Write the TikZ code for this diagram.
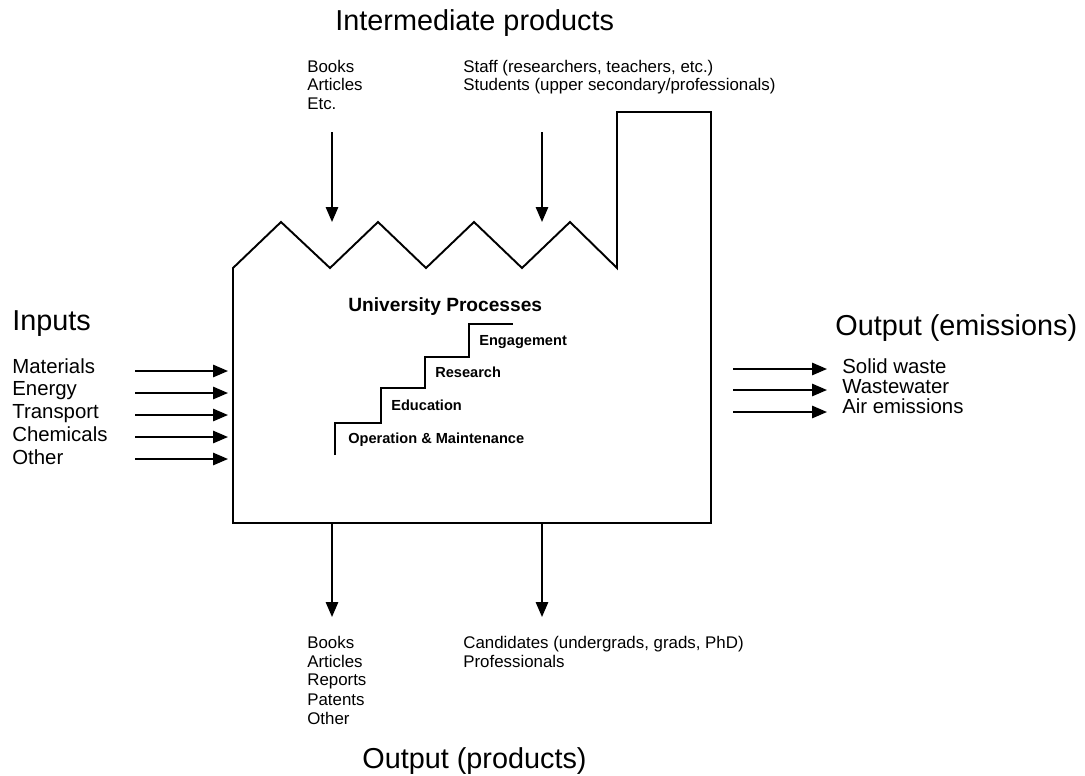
\documentclass[tikz,border=0pt]{standalone}
\usepackage{fontspec}
\setmainfont{Liberation Sans}
\usetikzlibrary{arrows.meta}

\tikzset{
  wall/.style={line width=1.1pt, line join=miter},
  flow/.style={line width=1.1pt, -{Triangle[length=8.5pt,width=7pt]}},
  head/.style={font=\fontsize{16.4}{19}\selectfont, inner sep=0pt, anchor=base west},
  item/.style={font=\fontsize{11.6}{13}\selectfont, inner sep=0pt, anchor=base west},
  note/.style={font=\fontsize{9.6}{11}\selectfont, inner sep=0pt, anchor=base west},
  stage/.style={font=\bfseries\fontsize{8.3}{10}\selectfont, inner sep=0pt, anchor=base west},
}

\begin{document}
\begin{tikzpicture}[x=0.02cm, y=-0.02cm]

    \useasboundingbox (0,0) rectangle (1085,775);

    % Factory
    \draw[wall] (233,523) -- (233,268) -- (281,222) -- (330,268) -- (378,222)
        -- (426,268) -- (474,222) -- (522,268) -- (570,222) -- (617,268)
        -- (617,112) -- (711,112) -- (711,523) -- cycle;

    % Stairs
    \draw[wall] (335,455) -- (335,423) -- (381,423) -- (381,388) -- (425,388)
        -- (425,357) -- (469,357) -- (469,324) -- (513,324);
    \node[stage, font=\bfseries\fontsize{10.9}{12}\selectfont] (uniproc) at (348,311) {University Processes};
    \node[stage] (engage) at (479,345) {Engagement};
    \node[stage] (research) at (435,377) {Research};
    \node[stage] (educ) at (391,410) {Education};
    \node[stage] (opmaint) at (348,443) {Operation \& Maintenance};

    % ================================
    % Intermediate products

    \node[head] (interm) at (335,30) {Intermediate products};
    \node[note] (ibooks) at (307,72) {Books};
    \node[note] (iarticles) at (307,90.5) {Articles};
    \node[note] (ietc) at (307,109) {Etc.};
    \node[note] (istaff) at (463,72) {Staff (researchers, teachers, etc.)};
    \node[note] (istud) at (463,90.5) {Students (upper secondary/professionals)};

    \coordinate (litTop) at (332,132);
    \coordinate (litRoof) at (332,222);
    \coordinate (staffTop) at (542,132);
    \coordinate (staffRoof) at (542,222);
    \draw[flow] (litTop) -- (litRoof);
    \draw[flow] (staffTop) -- (staffRoof);

    % ================================
    % Inputs

    \node[head] (inputs) at (12,330) {Inputs};
    \node[item] (mat) at (12,373) {Materials};
    \node[item] (ene) at (12,395) {Energy};
    \node[item] (trans) at (12,418.5) {Transport};
    \node[item] (chem) at (12,441.5) {Chemicals};
    \node[item] (oth) at (12,464) {Other};

    \coordinate (matA) at (135,371);   \coordinate (matB) at (228,371);
    \coordinate (eneA) at (135,393);   \coordinate (eneB) at (228,393);
    \coordinate (transA) at (135,415); \coordinate (transB) at (228,415);
    \coordinate (chemA) at (135,437);  \coordinate (chemB) at (228,437);
    \coordinate (othA) at (135,459);   \coordinate (othB) at (228,459);
    \draw[flow] (matA) -- (matB);
    \draw[flow] (eneA) -- (eneB);
    \draw[flow] (transA) -- (transB);
    \draw[flow] (chemA) -- (chemB);
    \draw[flow] (othA) -- (othB);

    % ================================
    % Output (emissions)

    \node[head] (emis) at (835,335) {Output (emissions)};
    \node[item] (solid) at (842,373.5) {Solid waste};
    \node[item] (wwater) at (842,393.5) {Wastewater};
    \node[item] (air) at (842,413.5) {Air emissions};

    \coordinate (solidA) at (733,369);  \coordinate (solidB) at (827,369);
    \coordinate (wwaterA) at (733,390); \coordinate (wwaterB) at (827,390);
    \coordinate (airA) at (733,412);    \coordinate (airB) at (827,412);
    \draw[flow] (solidA) -- (solidB);
    \draw[flow] (wwaterA) -- (wwaterB);
    \draw[flow] (airA) -- (airB);

    % ================================
    % Output (products)

    \coordinate (litBase) at (332,523);
    \coordinate (litEnd) at (332,617);
    \coordinate (candBase) at (542,523);
    \coordinate (candEnd) at (542,617);
    \draw[flow] (litBase) -- (litEnd);
    \draw[flow] (candBase) -- (candEnd);

    \node[note] (obooks) at (307,648) {Books};
    \node[note] (oarticles) at (307,667) {Articles};
    \node[note] (oreports) at (307,685.5) {Reports};
    \node[note] (opatents) at (307,705) {Patents};
    \node[note] (oother) at (307,724) {Other};
    \node[note] (ocand) at (463,648) {Candidates (undergrads, grads, PhD)};
    \node[note] (oprof) at (463,667) {Professionals};

    \node[head] (prod) at (362,768) {Output (products)};

\end{tikzpicture}
\end{document}
